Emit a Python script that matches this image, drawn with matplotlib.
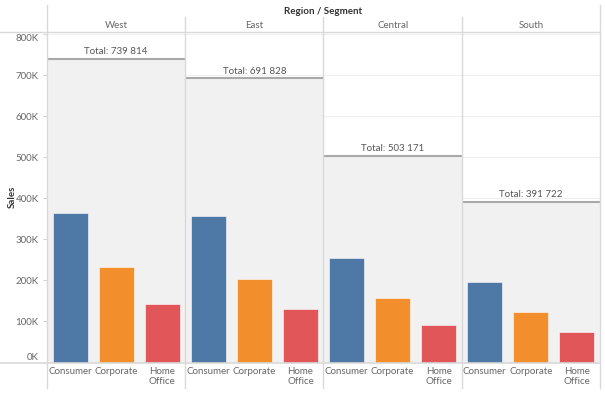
import matplotlib.pyplot as plt
from matplotlib.lines import Line2D

# données (ventes par région / segment)
regions = ["West", "East", "Central", "South"]
segments = ["Consumer", "Corporate", "Home\nOffice"]
consumer = [365300, 357400, 254300, 195300]
corporate = [231500, 203000, 158100, 122200]
home_office = [143000, 131400, 90800, 74200]
totals = [739814, 691828, 503171, 391722]
yticks = [0, 100000, 200000, 300000, 400000, 500000, 600000, 700000, 800000]
ytick_labels = ["0K", "100K", "200K", "300K", "400K", "500K", "600K", "700K", "800K"]

colors = ["#4e79a7", "#f28e2b", "#e15759"]

plt.rcParams['font.family'] = ['Lato', 'DejaVu Sans']

W, H = 605, 394
fig = plt.figure(figsize=(W / 100, H / 100), dpi=100)

def fx(x):
    return x / W

def fy(y):
    return 1 - y / H

x0, x1 = 47, 600
ytop, ybot = 32, 362.5
pw = (x1 - x0) / len(regions)

for i, reg in enumerate(regions):
    ax = fig.add_axes([fx(x0 + i * pw), fy(ybot), pw / W, (ybot - ytop) / H])
    vals = [consumer[i], corporate[i], home_office[i]]
    ax.set_xlim(-0.5, 2.5)
    ax.set_ylim(0, 805000)
    for t in yticks[1:]:
        ax.axhline(t, color="#efefef", lw=0.7, zorder=0)
    ax.axhspan(0, totals[i], color="#f1f1f1", lw=0, zorder=0.5)
    ax.axhline(totals[i], color="#a9a9a9", lw=1.5, zorder=1)
    ax.bar(range(3), vals, width=0.76, color=colors, edgecolor="white", linewidth=0.4, zorder=2)
    ax.annotate("Total: " + f"{totals[i]:,}".replace(",", " "), (1, totals[i]),
                xytext=(0, 2), textcoords="offset points", ha="center", va="bottom",
                fontsize=7, color="#555555")
    for s in ax.spines.values():
        s.set_visible(False)
    ax.set_xticks(range(3))
    ax.set_xticklabels(segments, fontsize=7, color="#666666", linespacing=1.25)
    ax.tick_params(axis="x", length=0, pad=3)
    if i == 0:
        ax.set_yticks(yticks)
        ax.set_yticklabels(ytick_labels, fontsize=7, color="#666666")
        ax.tick_params(axis="y", length=3, width=0.6, color="#cccccc", pad=3)
        labs = ax.get_yticklabels()
        labs[0].set_va("bottom")
        labs[-1].set_va("top")
    else:
        ax.set_yticks([])
    fig.text(fx(x0 + (i + 0.5) * pw), fy(25), reg, ha="center", va="center",
             fontsize=7, color="#666666")

# lignes de séparation des volets
for i in range(len(regions) + 1):
    xx = fx(x0 + i * pw)
    ystart = 5 if i in (0, len(regions)) else 17
    fig.add_artist(Line2D([xx, xx], [fy(ystart), fy(388)], color="#d9d9d9", lw=1))
fig.add_artist(Line2D([0, fx(x1)], [fy(ytop), fy(ytop)], color="#d9d9d9", lw=1))
fig.add_artist(Line2D([0, fx(x1)], [fy(363), fy(363)], color="#d9d9d9", lw=1.2))

fig.text(fx((x0 + x1) / 2), fy(12), "Region / Segment", ha="center", va="center",
         fontsize=7, color="#333333", fontweight="bold")
fig.text(fx(12), fy(197), "Sales", ha="center", va="center", rotation=90,
         fontsize=7, color="#333333", fontweight="bold")

fig.savefig("out.png", dpi=100, facecolor="white")
